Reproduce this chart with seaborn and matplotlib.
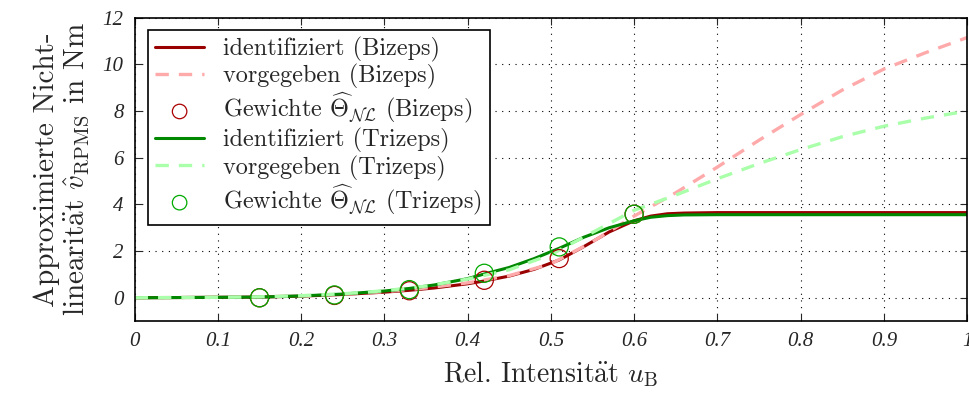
import matplotlib
matplotlib.use("Agg")
import matplotlib.pyplot as plt
import seaborn as sns

# identified curves
x_ident = [0.0, 0.1, 0.15, 0.2, 0.25, 0.3, 0.33, 0.36, 0.4, 0.42, 0.45, 0.48, 0.51,
           0.54, 0.57, 0.6, 0.62, 0.64, 0.66, 0.7, 0.8, 0.9, 1.0]
ident_biz = [0.0, 0.02, 0.03, 0.07, 0.14, 0.24, 0.32, 0.42, 0.6, 0.72, 0.93, 1.22, 1.62,
             2.2, 2.82, 3.3, 3.5, 3.6, 3.63, 3.65, 3.65, 3.65, 3.65]
ident_tri = [0.0, 0.02, 0.03, 0.08, 0.16, 0.29, 0.4, 0.55, 0.82, 1.02, 1.3, 1.68, 2.12,
             2.6, 3.0, 3.3, 3.45, 3.52, 3.55, 3.56, 3.56, 3.56, 3.56]

# given (vorgegeben) curves
x_given = [0.0, 0.05, 0.1, 0.15, 0.2, 0.25, 0.3, 0.35, 0.4, 0.45, 0.5, 0.55, 0.6,
           0.65, 0.7, 0.75, 0.8, 0.85, 0.9, 0.95, 1.0]
given_biz = [0.0, 0.01, 0.02, 0.04, 0.08, 0.15, 0.26, 0.42, 0.64, 0.95, 1.45, 2.4, 3.5,
             4.5, 5.6, 6.75, 7.85, 8.9, 9.8, 10.5, 11.15]
given_tri = [0.0, 0.01, 0.02, 0.04, 0.09, 0.17, 0.3, 0.5, 0.8, 1.2, 1.85, 2.8, 3.75,
             4.4, 5.1, 5.75, 6.35, 6.9, 7.35, 7.7, 8.0]

# weights
x_w = [0.15, 0.24, 0.33, 0.42, 0.51, 0.6]
w_biz = [0.0, 0.1, 0.3, 0.75, 1.68, 3.58]
w_tri = [0.0, 0.12, 0.35, 1.05, 2.18, 3.58]

sns.set_style("ticks")
plt.rcParams['font.family'] = ['cmr10', 'DejaVu Serif']
plt.rcParams['mathtext.fontset'] = 'cm'
plt.rcParams['axes.unicode_minus'] = False

fig, ax = plt.subplots(figsize=(9.69, 3.94), dpi=100)
fig.subplots_adjust(left=0.139, right=0.998, top=0.955, bottom=0.185)

theta = r'$\widehat{\boldsymbol{\Theta}}_{\mathcal{NL}}$'
sns.lineplot(x=x_ident, y=ident_biz, color='#990000', lw=2.2, ax=ax,
             label='identifiziert (Bizeps)')
sns.lineplot(x=x_given, y=given_biz, color='#ffaaaa', lw=2.4, ax=ax,
             linestyle=(0, (4, 3)), label='vorgegeben (Bizeps)')
sns.scatterplot(x=x_w, y=w_biz, marker='o', s=170, facecolor='none',
                edgecolor='#aa0000', linewidth=0.9, ax=ax,
                label='Gewichte ' + theta + ' (Bizeps)', zorder=5)
sns.lineplot(x=x_ident, y=ident_tri, color='#008800', lw=2.2, ax=ax,
             label='identifiziert (Trizeps)')
sns.lineplot(x=x_given, y=given_tri, color='#aaffaa', lw=2.4, ax=ax,
             linestyle=(0, (4, 3)), label='vorgegeben (Trizeps)')
sns.scatterplot(x=x_w, y=w_tri, marker='o', s=170, facecolor='none',
                edgecolor='#00aa00', linewidth=0.9, ax=ax,
                label='Gewichte ' + theta + ' (Trizeps)', zorder=5)

ax.set_xlim(0, 1)
ax.set_ylim(-1, 12)
ax.set_xticks([0, 0.1, 0.2, 0.3, 0.4, 0.5, 0.6, 0.7, 0.8, 0.9, 1])
ax.set_xticklabels(['0', '0.1', '0.2', '0.3', '0.4', '0.5', '0.6', '0.7', '0.8', '0.9', '1'])
ax.set_yticks([0, 2, 4, 6, 8, 10, 12])
ax.set_yticklabels(['0', '2', '4', '6', '8', '10', '12'])
for t in ax.get_xticklabels() + ax.get_yticklabels():
    t.set_family('Liberation Serif')
    t.set_style('italic')
    t.set_fontsize(15)
ax.tick_params(direction='in', top=True, right=True, length=5, width=0.8, pad=8)
ax.grid(True, color='black', linestyle=(0, (1, 5)), linewidth=0.8)
for sp in ax.spines.values():
    sp.set_linewidth(1.2)
    sp.set_color('black')

ae = r'$\ddot{\mathrm{a}}$'
ax.set_xlabel('Rel. Intensit' + ae + r't $u_\mathrm{B}$', fontsize=20, labelpad=6)
ax.set_ylabel('Approximierte Nicht-\n' + 'linearit' + ae + r't $\hat{v}_\mathrm{RPMS}$ in Nm',
              fontsize=21, labelpad=8, linespacing=1.1)

leg = ax.legend(loc='upper left', fontsize=17.5, frameon=True, fancybox=False,
                borderpad=0.3, labelspacing=0.08, handlelength=2.0, markerscale=0.8,
                handletextpad=0.8, borderaxespad=0.0, bbox_to_anchor=(0.016, 0.96))
leg.get_frame().set_edgecolor('black')
leg.get_frame().set_linewidth(1.2)
leg.get_frame().set_alpha(1)

fig.savefig('out.png', dpi=100)
